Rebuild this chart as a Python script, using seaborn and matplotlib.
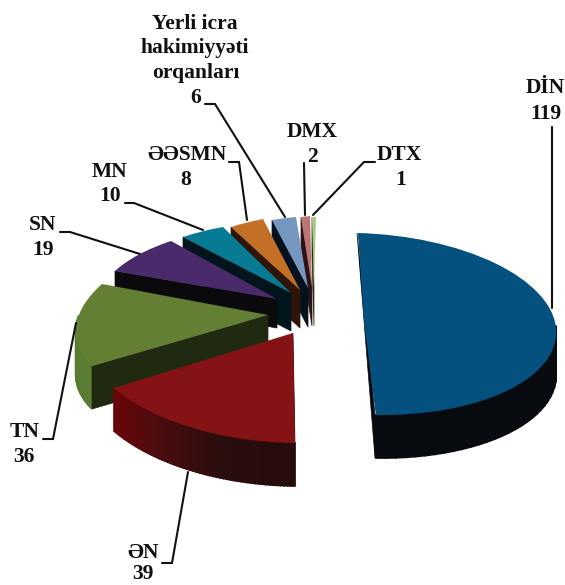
import numpy as np
import seaborn as sns
from matplotlib import pyplot as plt
from matplotlib.transforms import Affine2D

labels = ['DİN', 'ƏN', 'TN', 'SN', 'MN', 'ƏƏSMN', 'Yerli icra\nhakimiyyəti\norqanları', 'DMX', 'DTX']
values = [119, 39, 36, 19, 10, 8, 6, 2, 1]

top_colors = ['#04507f', '#851315', '#637f34', '#4b2a6b', '#077b93', '#c36f25', '#7597c0', '#bb7575', '#a9c882']
cut_colors = ['#070b10', '#2a0d0d', '#1f2a10', '#0a0a0c', '#03151c', '#2e1507', '#04121f', '#2f1214', '#1c2a12']
wall_colors = ['#070b10', '#6b0508', '#5a7b32', '#0a0a0c', '#03151c', '#2e1507', '#04121f', '#2f1214', '#1c2a12']
depths = [43, 43, 43, 29, 38, 38, 39, 39, 39]

# where each slice landed in the picture: apex, first corner, last corner (pixels)
apexes = [(366, 324), (293, 333), (268, 315), (277, 299), (291, 293), (300, 290), (308, 288), (312, 287), (314, 287)]
firsts = [(357, 233), (295, 443), (92, 366), (115, 271), (183, 237), (231, 227), (272, 220), (301, 217), (312, 217)]
lasts = [(375, 415), (114, 388), (102, 284), (171, 241), (223, 227), (263, 219), (296, 217), (310, 216), (316, 217)]

text_spots = {
    'DİN': (545, 88), '119': (546, 114), 'ƏN': (143, 553), '39': (143, 574),
    'TN': (25, 432), '36': (24, 457), 'SN': (43, 225), '19': (43, 250),
    'MN': (110, 172), '10': (110, 196), 'ƏƏSMN': (187, 155), '8': (186, 180),
    'Yerli icra': (195, 24), 'hakimiyyəti': (195, 48), 'orqanları': (196, 73), '6': (196, 98),
    'DMX': (312, 132), '2': (312, 157), 'DTX': (399, 155), '1': (401, 180),
}
leaders = [
    [(552, 127), (552, 308)],
    [(188, 472), (172, 563), (162, 563)],
    [(76, 323), (53, 439), (43, 439)],
    [(60, 232), (70, 232), (140, 254)],
    [(125, 203), (134, 203), (203, 230)],
    [(229, 162), (239, 162), (247, 220)],
    [(205, 104), (215, 104), (285, 217)],
    [(304, 163), (305, 215)],
    [(375, 162), (364, 162), (313, 215)],
]


def slice_matrix(wedge, apex, first, last):
    # affine from the pie's unit circle to picture pixels
    a1, a2 = np.radians(wedge.theta2), np.radians(wedge.theta1)
    src = [(0, 0), (np.cos(a1), np.sin(a1)), (np.cos(a2), np.sin(a2))]
    dst = [apex, first, last]
    if wedge.theta2 - wedge.theta1 > 150:
        # nearly straight across, needs the arc's far point as well
        mid = (a1 + a2) / 2
        src.append((np.cos(mid), np.sin(mid)))
        dst.append((556, 328))
    src = np.column_stack([np.array(src), np.ones(len(src))])
    m = np.linalg.lstsq(src, np.array(dst, dtype=float), rcond=None)[0].T
    return np.vstack([m, [0, 0, 1]])


sns.set_theme(style='white')
plt.rcParams['font.family'] = ['Liberation Serif', 'DejaVu Serif']

fig = plt.figure(figsize=(5.65, 5.85), dpi=100)
ax = fig.add_axes([0, 0, 1, 1])
wedges, _ = ax.pie(values, startangle=90, counterclock=False, colors=sns.color_palette(top_colors))
ax.set_aspect('auto')
ax.set_xlim(0, 565)
ax.set_ylim(585, 0)
ax.axis('off')

red_wall = sns.blend_palette(['#6b0508', '#4a0c0e', '#2a0d0d', '#260c0c'], 60)

# painter's order, back slices first
for rank, i in enumerate([0, 8, 7, 6, 5, 4, 3, 2, 1]):
    w = wedges[i]
    m = Affine2D(slice_matrix(w, apexes[i], firsts[i], lasts[i]))
    w.set_transform(m + ax.transData)
    w.set_edgecolor('none')
    w.set_zorder(11 + 2 * rank)
    z = 10 + 2 * rank

    t = np.linspace(np.radians(w.theta2), np.radians(w.theta1), 60)
    arc = m.transform(np.column_stack([np.cos(t), np.sin(t)]))
    d = depths[i]
    for k in range(len(arc) - 1):
        p, q = arc[k], arc[k + 1]
        if min(p[1], q[1]) < apexes[i][1]:
            continue
        c = red_wall[59 - k] if i == 1 else wall_colors[i]
        ax.fill([p[0], q[0], q[0], p[0]], [p[1], q[1], q[1] + d, p[1] + d],
                color=c, lw=1.2, zorder=z)
    if i == 0:
        fx, fy = firsts[0]
        lx, ly = lasts[0]
        ax.fill([fx, lx, lx], [fy, ly, ly + d], color=cut_colors[0], lw=0.5, zorder=z)
    else:
        ax_, ay_ = apexes[i]
        fx, fy = firsts[i]
        ax.fill([ax_, fx, fx, ax_], [ay_, fy, fy + d, ay_ + d], color=cut_colors[i], lw=0.5, zorder=z)

for pts in leaders:
    xs, ys = zip(*pts)
    ax.plot(xs, ys, color='#111111', lw=1.5, zorder=40, solid_joinstyle='miter')

for txt, (x, y) in text_spots.items():
    ax.text(x, y, txt, ha='center', va='center', fontsize=15.5, fontweight='bold', color='#111111', zorder=50)

plt.savefig('out.png', dpi=100)
